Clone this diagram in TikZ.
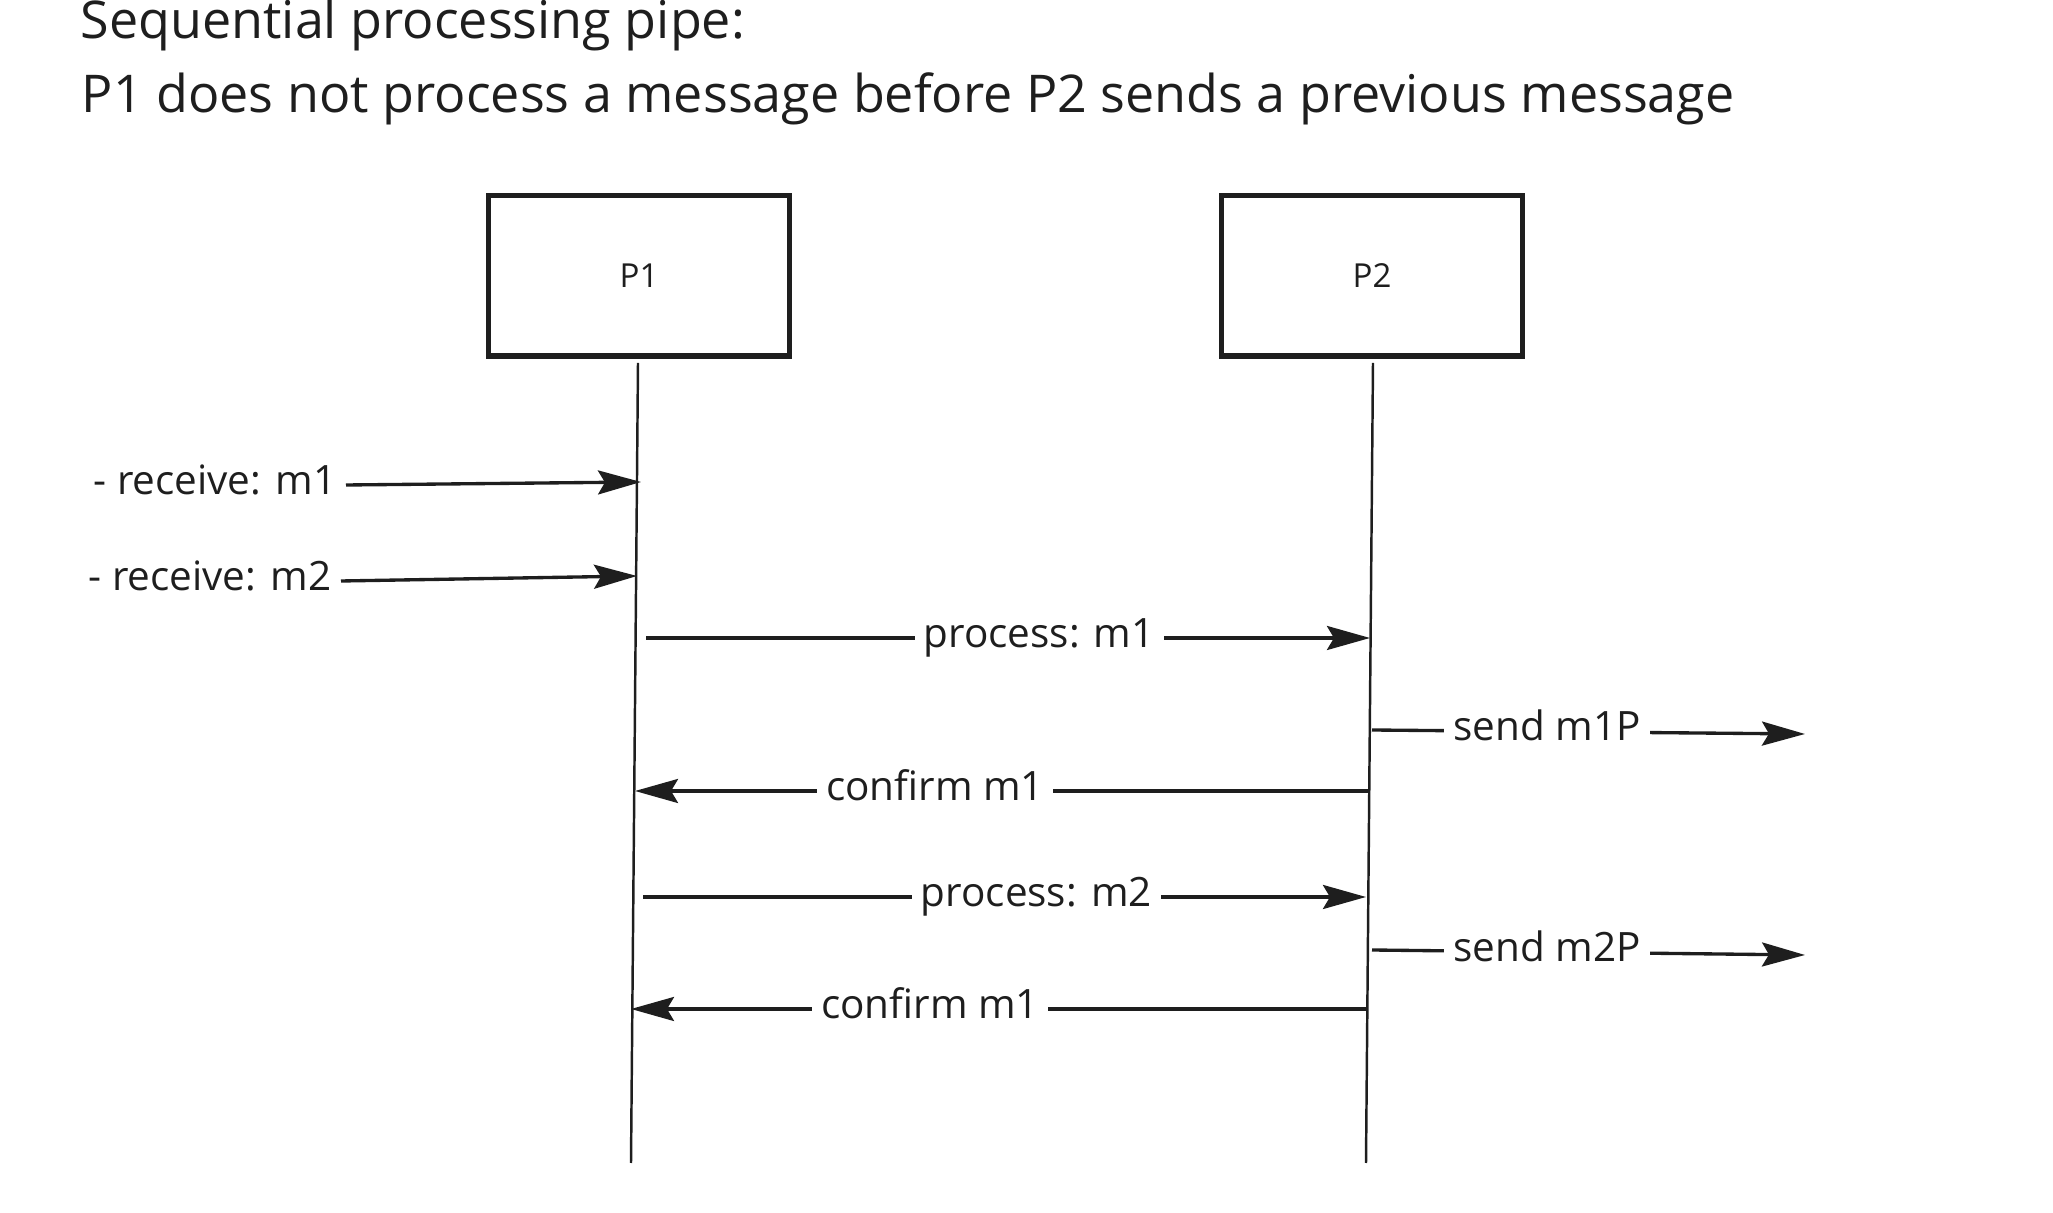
\documentclass[tikz,border=0pt]{standalone}
\usepackage{fontspec}
\setmainfont{Open Sans}
\usetikzlibrary{arrows.meta,positioning,calc}

\definecolor{ink}{HTML}{1E1E1E}

\tikzset{
    proc/.style={draw=ink, line width=1.45pt, minimum width=3cm, minimum height=1.6cm,
        inner sep=0pt, text=ink, font=\fontsize{9.4}{11}\selectfont},
    life/.style={draw=ink, line width=0.7pt},
    msg/.style={draw=ink, line width=0.95pt, -{Stealth[length=4.3mm,width=2.4mm,inset=0.7mm]}},
    lbl/.style={fill=white, text=ink, inner xsep=2.6pt, inner ysep=1pt,
        text height=0.76em, text depth=0.24em, font=\fontsize{11.5}{13}\selectfont},
    ttl/.style={text=ink, inner sep=0pt, anchor=base west, font=\fontsize{14.8}{17}\selectfont}
}

\begin{document}
\begin{tikzpicture}[x=0.01cm, y=-0.01cm]
    \useasboundingbox (0,0) rectangle (2053,1213);

    % title
    \node[ttl] (t1) at (80,39) {Sequential processing pipe:};
    \node[ttl] (t2) at (81,113) {P1 does not process a message before P2 sends a previous message};

    % the two processes
    \node[proc] (p1) at (639,276) {P1};
    \node[proc] (p2) at (1372,276) {P2};

    % lifelines
    \coordinate (l1t) at (638,363);
    \coordinate (l1b) at (631,1163);
    \coordinate (l2t) at (1373,363);
    \coordinate (l2b) at (1366,1163);
    \draw[life] (l1t) -- (l1b);
    \draw[life] (l2t) -- (l2b);

    % incoming messages
    \node[lbl, anchor=east, fill=none] (r1) at (346,485) {- receive: m1};
    \node[lbl, anchor=east, fill=none] (r2) at (341,581) {- receive: m2};
    \coordinate (a1) at (641,482);
    \coordinate (a2) at (637,576);
    \draw[msg] (r1.east) -- (a1);
    \draw[msg] (r2.east) -- (a2);

    % P1 -> P2 and back
    \coordinate (s1) at (646,638);  \coordinate (e1) at (1370,638);
    \coordinate (s2) at (1369,791); \coordinate (e2) at (635,791);
    \coordinate (s3) at (643,897);  \coordinate (e3) at (1366,897);
    \coordinate (s4) at (1366,1009); \coordinate (e4) at (631,1009);
    \draw[msg] (s1) -- node[lbl, pos=.543] (m1) {process: m1} (e1);
    \draw[msg] (s2) -- node[lbl, pos=.591] (c1) {confirm m1} (e2);
    \draw[msg] (s3) -- node[lbl, pos=.544] (m2) {process: m2} (e3);
    \draw[msg] (s4) -- node[lbl, pos=.593] (c2) {confirm m1} (e4);

    % outgoing messages
    \coordinate (o1) at (1372,730); \coordinate (f1) at (1805,734);
    \coordinate (o2) at (1372,950); \coordinate (f2) at (1805,955);
    \draw[msg] (o1) -- node[lbl, pos=.404] (x1) {send m1P} (f1);
    \draw[msg] (o2) -- node[lbl, pos=.404] (x2) {send m2P} (f2);
\end{tikzpicture}
\end{document}
